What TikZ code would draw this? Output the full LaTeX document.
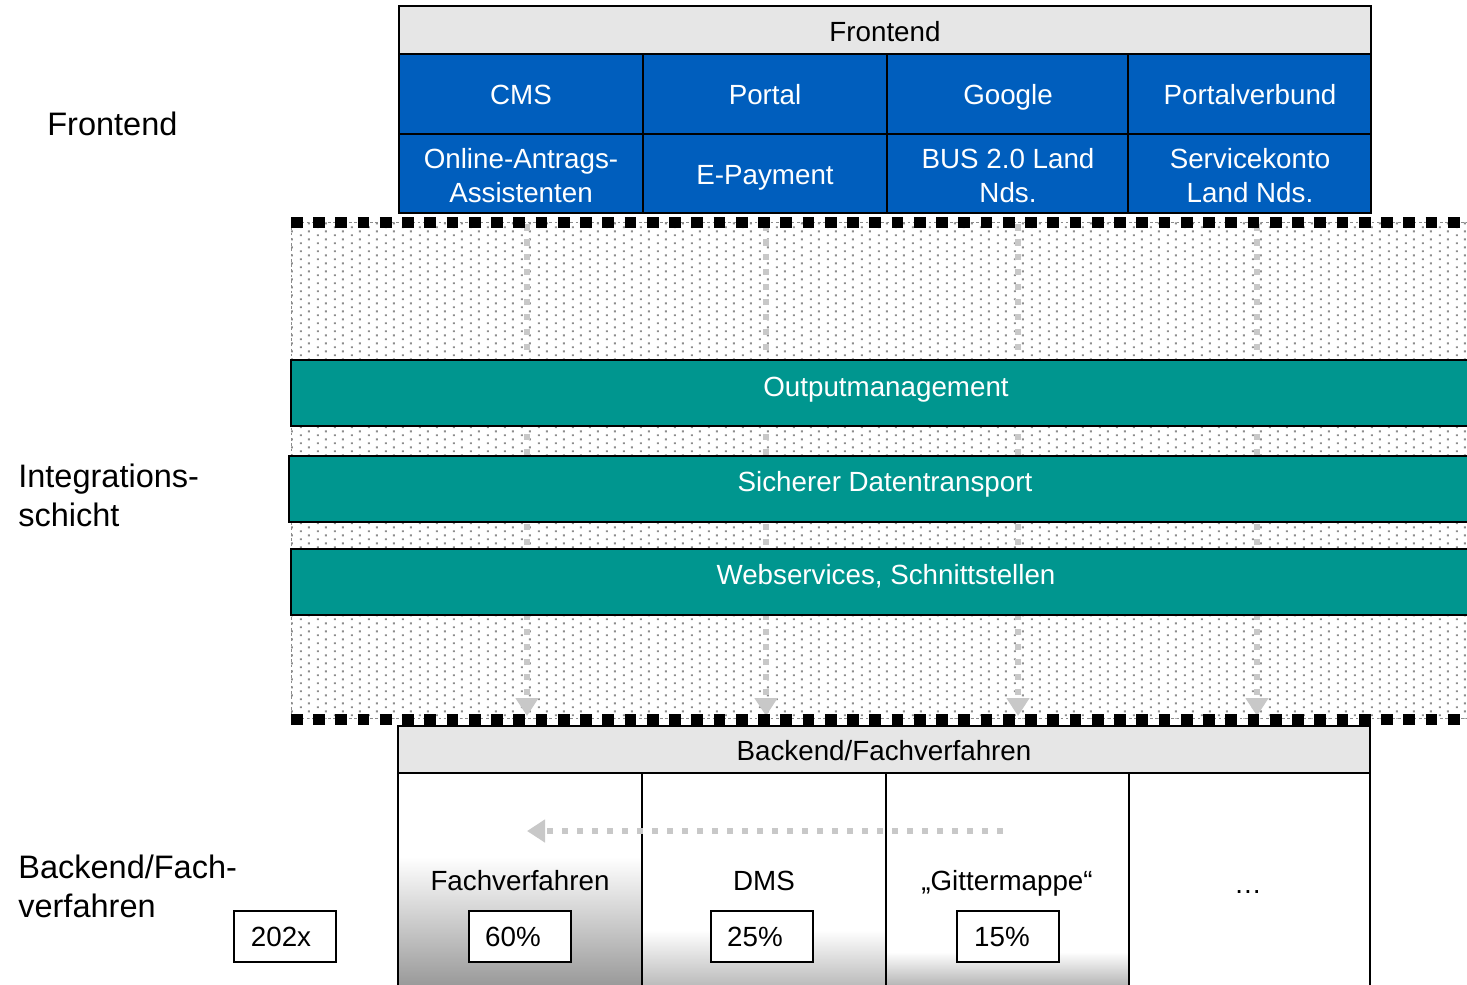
\documentclass[tikz,border=0pt]{standalone}
\usepackage{fontspec}
\setmainfont{Liberation Sans}
\usetikzlibrary{arrows.meta,patterns}
\definecolor{hdrgray}{RGB}{230,230,230}
\definecolor{feblue}{RGB}{0,94,189}
\definecolor{tealbar}{RGB}{0,150,143}
\definecolor{dotgray}{RGB}{140,140,140}
\definecolor{arrgray}{RGB}{200,200,200}
\definecolor{shadegray}{RGB}{150,150,150}
\pgfdeclarepatternformonly{refdots}{\pgfpointorigin}{\pgfpoint{9.47pt}{4.76pt}}{\pgfpoint{9.47pt}{4.76pt}}{%
  \pgfpathrectangle{\pgfpoint{0.5pt}{0.5pt}}{\pgfpoint{1.1pt}{1.1pt}}%
  \pgfpathrectangle{\pgfpoint{5.23pt}{2.88pt}}{\pgfpoint{1.1pt}{1.1pt}}%
  \pgfusepath{fill}}
\tikzset{
  txt/.style={font=\fontsize{15.8}{19.3}\selectfont, align=center, inner sep=0pt},
  one/.style={text height=11.3pt, text depth=0pt},
  wtxt/.style={txt, text=white},
  lbl/.style={font=\fontsize{18.5}{22.1}\selectfont, align=left, inner sep=0pt, anchor=west},
  cell/.style={draw=black, line width=0.04cm},
  bar/.style={draw=black, line width=0.04cm, fill=tealbar},
  arr/.style={draw=arrgray, line width=0.12cm, dash pattern=on 0.13cm off 0.17cm,
    -{Triangle[length=0.36cm,width=0.44cm,fill=arrgray]}},
  blackdash/.style={draw=black, line width=0.235cm, dash pattern=on 0.235cm off 0.21cm},
  thindash/.style={draw=dotgray, line width=0.3pt, dash pattern=on 1.5pt off 1.5pt},
}
\begin{document}
\begin{tikzpicture}[x=0.02cm,y=-0.02cm, line join=miter]
\useasboundingbox (0,0) rectangle (1467,984);
\begin{scope}
\clip (0,0) rectangle (1467,984);
% dotted integration area
\fill[pattern=refdots, pattern color=dotgray] (291,222) rectangle (1470,718);
\draw[thindash] (291,222) -- (291,718);
% vertical gray arrows
\foreach \i/\x in {1/527,2/766,3/1018,4/1257}{
  \coordinate (vs\i) at (\x,224);
  \coordinate (ve\i) at (\x,716);
  \draw[arr] (vs\i) -- (ve\i);
}
% teal bars
\draw[bar] (291,360) rectangle (1480,426);
\draw[bar] (289,456) rectangle (1480,522);
\draw[bar] (291,549) rectangle (1480,615);
\node[wtxt,one] (om) at (886,387) {Outputmanagement};
\node[wtxt,one] (sd) at (885,482) {Sicherer Datentransport};
\node[wtxt,one] (ws) at (886,575) {Webservices, Schnittstellen};
% dashed boundaries
\draw[thindash] (291,222) -- (1470,222);
\draw[thindash] (291,718) -- (1470,718);
\draw[blackdash] (291,222.5) -- (1470,222.5);
\draw[blackdash] (291,719.5) -- (1470,719.5);
% frontend block
\draw[cell, fill=hdrgray] (399,6) rectangle (1371,54);
\node[txt,one] (fh) at (885,32) {Frontend};
\foreach \a/\b in {399/643,643/887,887/1128,1128/1371}{
  \draw[cell, fill=feblue] (\a,54) rectangle (\b,134);
  \draw[cell, fill=feblue] (\a,134) rectangle (\b,213);
}
\node[wtxt,one] (cms) at (521,95) {CMS};
\node[wtxt,one] (portal) at (765,95) {Portal};
\node[wtxt,one] (google) at (1008,95) {Google};
\node[wtxt,one] (pv) at (1250,95) {Portalverbund};
\node[wtxt] (oaa) at (521,176) {Online-Antrags-\\Assistenten};
\node[wtxt,one] (ep) at (765,175) {E-Payment};
\node[wtxt] (bus) at (1008,176) {BUS 2.0 Land\\Nds.};
\node[wtxt] (sk) at (1250,176) {Servicekonto\\Land Nds.};
% backend block
\fill[white] (398,773) rectangle (1370,990);
\shade[top color=white, bottom color=shadegray] (398,857) rectangle (642,990);
\shade[top color=white, bottom color=shadegray!70!white] (642,930) rectangle (886,990);
\shade[top color=white, bottom color=shadegray!80!white] (886,952) rectangle (1129,990);
\draw[cell, fill=hdrgray] (398,726) rectangle (1370,773);
\node[txt,one] (bh) at (884,751) {Backend/Fachverfahren};
\draw[cell] (398,773) -- (398,990);
\draw[cell] (642,773) -- (642,990);
\draw[cell] (886,773) -- (886,990);
\draw[cell] (1129,773) -- (1129,990);
\draw[cell] (1370,773) -- (1370,990);
% horizontal gray arrow
\coordinate (hs) at (1003,831);
\coordinate (he) at (527,831);
\draw[arr] (hs) -- (he);
% backend texts
\node[txt,one] (fv) at (520,881) {Fachverfahren};
\node[txt,one] (dms) at (764,881) {DMS};
\node[txt,one] (gm) at (1007,881) {„Gittermappe“};
\node[txt,one] (dots) at (1248,884) {…};
\draw[cell, fill=white] (469,911) rectangle (571,962);
\draw[cell, fill=white] (711,911) rectangle (813,962);
\draw[cell, fill=white] (957,911) rectangle (1059,962);
\draw[cell, fill=white] (234,911) rectangle (336,962);
\node[txt,one] (p60) at (513,937) {60\%};
\node[txt,one] (p25) at (755,937) {25\%};
\node[txt,one] (p15) at (1002,937) {15\%};
\node[txt,one] (yr) at (281,937) {202x};
% left labels
\node[lbl] (lf) at (47,124) {Frontend};
\node[lbl] (li) at (18,495) {Integrations-\\schicht};
\node[lbl] (lb) at (18,886) {Backend/Fach-\\verfahren};
\end{scope}
\end{tikzpicture}
\end{document}
